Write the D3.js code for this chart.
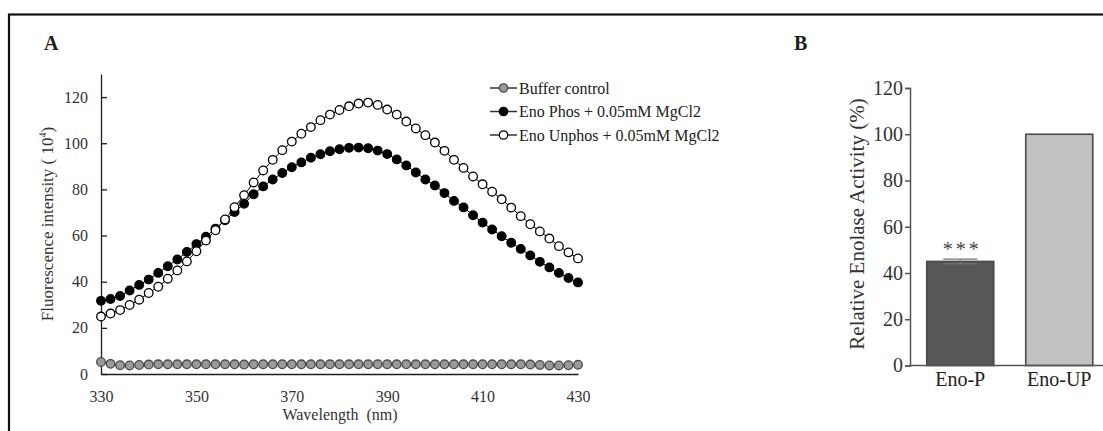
<!DOCTYPE html>
<html>
<head>
<meta charset="utf-8">
<script src="https://cdn.jsdelivr.net/npm/d3@7"></script>
<style>
  html, body { margin: 0; padding: 0; background: #fff; }
  svg { display: block; font-family: "Liberation Serif", "Times New Roman", serif; }
</style>
</head>
<body>
<svg id="fig" width="1103" height="431"></svg>
<script>
// ---- Panel A: emission spectra ----
const wavelengths = [330,332,334,336,338,340,342,344,346,348,350,352,354,356,358,360,362,364,366,368,370,
  372,374,376,378,380,382,384,386,388,390,392,394,396,398,400,402,404,406,408,410,412,414,416,418,420,
  422,424,426,428,430];

const bufferControl = [5.2,4.4,3.8,3.7,3.9,4.1,4.2,4.2,4.2,4.2,4.2,4.2,4.2,4.2,4.2,4.1,4.2,4.2,4.2,4.2,4.2,
  4.2,4.2,4.2,4.2,4.2,4.2,4.2,4.2,4.2,4.2,4.2,4.2,4.2,4.2,4.2,4.2,4.2,4.2,4.2,4.2,4.2,4.2,4.2,4.2,4.1,
  3.9,3.7,3.7,3.8,4.0];

const enoPhos = [31.7,32.5,33.8,36.2,38.6,40.9,43.8,46.7,49.6,52.9,56.3,59.5,63.0,66.6,70.2,73.8,77.9,81.3,
  84.3,87.1,89.6,91.7,93.7,95.2,96.5,97.4,98.0,98.1,97.8,96.8,95.3,93.0,90.4,87.3,84.3,81.7,78.4,75.0,
  72.2,68.8,65.6,62.6,59.7,56.9,54.2,51.4,48.6,46.2,43.8,41.6,39.7];

const enoUnphos = [24.9,26.2,27.7,29.9,32.2,35.1,37.8,41.3,44.9,48.8,53.2,57.8,62.3,67.0,72.3,77.5,83.0,88.2,
  92.8,97.0,100.7,104.1,107.0,110.0,112.4,114.4,116.0,117.2,117.6,116.6,114.6,112.4,109.4,106.4,103.5,
  100.3,96.7,92.8,89.3,85.6,82.2,79.0,75.7,72.1,68.4,64.9,61.8,58.7,55.4,52.7,50.1];

const seriesNames = ["Buffer control", "Eno Phos + 0.05mM MgCl2", "Eno Unphos + 0.05mM MgCl2"];
const spectrumXTicks = [330, 350, 370, 390, 410, 430];
const spectrumYTicks = [0, 20, 40, 60, 80, 100, 120];

// ---- Panel B: relative activity ----
const activityCategories = ["Eno-P", "Eno-UP"];
const activityValues = [45, 100];
const activityErrors = [1.0, 0];
const activityYTicks = [0, 20, 40, 60, 80, 100, 120];

const svg = d3.select("#fig");
const ink = "#1e1e1e";

// outer frame
svg.append("rect")
  .attr("x", 9).attr("y", 14.5).attr("width", 1110).attr("height", 440)
  .attr("fill", "none").attr("stroke", "#111").attr("stroke-width", 2.2);

// panel letters
svg.append("text").attr("x", 44).attr("y", 50).text("A")
  .attr("font-size", 20).attr("font-weight", "bold").attr("fill", ink);
svg.append("text").attr("x", 794).attr("y", 50).text("B")
  .attr("font-size", 20).attr("font-weight", "bold").attr("fill", ink);

// ===== Panel A =====
const xA = d3.scaleLinear().domain([330, 430]).range([101, 578]);
const yA = d3.scaleLinear().domain([0, 130]).range([374, 74]);

const gA = svg.append("g");

// y axis with ticks crossing the line
const yAxisA = gA.append("g").attr("transform", `translate(${xA(330)},0)`)
  .call(d3.axisLeft(yA).tickValues(spectrumYTicks).tickSizeInner(4).tickSizeOuter(0).tickPadding(9));
yAxisA.select(".domain").attr("stroke", ink).attr("stroke-width", 1.3);
yAxisA.selectAll(".tick line").attr("x2", 6).attr("stroke", ink).attr("stroke-width", 1.3);
yAxisA.selectAll(".tick text").attr("font-size", 16).attr("fill", "#333").attr("font-family", "Liberation Serif");

// x axis: line and labels only
const xAxisA = gA.append("g").attr("transform", `translate(0,${yA(0)})`)
  .call(d3.axisBottom(xA).tickValues(spectrumXTicks).tickSize(0).tickPadding(16.5));
xAxisA.select(".domain").attr("stroke", ink).attr("stroke-width", 1.3);
xAxisA.selectAll(".tick text").attr("font-size", 16).attr("fill", "#333").attr("font-family", "Liberation Serif");

// axis titles
gA.append("text")
  .attr("transform", `translate(53,${224}) rotate(-90)`)
  .attr("text-anchor", "middle").attr("font-size", 17).attr("fill", "#333")
  .call(t => {
    t.append("tspan").text("Fluorescence intensity ( 10");
    t.append("tspan").text("4").attr("font-size", 10).attr("dy", -7);
    t.append("tspan").text(")").attr("dy", 7);
  });
gA.append("text").attr("x", 340).attr("y", 420).attr("text-anchor", "middle")
  .attr("font-size", 16).attr("fill", "#333").attr("xml:space", "preserve")
  .text("Wavelength  (nm)");

const seriesStyles = [
  { values: bufferControl, fill: "#9a9a9a", stroke: "#4a4a4a" },
  { values: enoPhos, fill: "#000", stroke: "#000" },
  { values: enoUnphos, fill: "#fff", stroke: "#000" }
];

const line = d3.line().x(d => xA(d[0])).y(d => yA(d[1]));

seriesStyles.forEach(s => {
  const pts = wavelengths.map((w, i) => [w, s.values[i]]);
  const g = gA.append("g");
  g.append("path").datum(pts).attr("d", line)
    .attr("fill", "none").attr("stroke", s.stroke).attr("stroke-width", 1);
  g.selectAll("circle").data(pts).join("circle")
    .attr("cx", d => xA(d[0])).attr("cy", d => yA(d[1])).attr("r", 4.3)
    .attr("fill", s.fill).attr("stroke", s.stroke).attr("stroke-width", 1.3);
});

// legend
const legend = gA.append("g");
seriesStyles.forEach((s, i) => {
  const cy = 88 + i * 23.5;
  legend.append("line").attr("x1", 490).attr("x2", 517).attr("y1", cy).attr("y2", cy)
    .attr("stroke", "#333").attr("stroke-width", 1.5);
  legend.append("circle").attr("cx", 503.5).attr("cy", cy).attr("r", 4.2)
    .attr("fill", s.fill).attr("stroke", s.stroke).attr("stroke-width", 1.3);
  legend.append("text").attr("x", 519).attr("y", cy).attr("dy", "0.35em")
    .attr("font-size", 16).attr("fill", "#222").text(seriesNames[i]);
});

// ===== Panel B =====
const yB = d3.scaleLinear().domain([0, 120]).range([365.5, 88]);
const xB = d3.scaleBand().domain(activityCategories).range([910, 1109.5])
  .paddingInner(0.323).paddingOuter(0.169);

const gB = svg.append("g");
const axisGrey = "#555";

gB.selectAll("rect.bar").data(activityCategories).join("rect")
  .attr("class", "bar")
  .attr("x", d => xB(d)).attr("width", xB.bandwidth())
  .attr("y", (d, i) => yB(activityValues[i]))
  .attr("height", (d, i) => yB(0) - yB(activityValues[i]))
  .attr("fill", (d, i) => i === 0 ? "#575757" : "#c2c2c2")
  .attr("stroke", "#4a4a4a").attr("stroke-width", 1.6);

// error bars and significance mark
activityCategories.forEach((c, i) => {
  if (!activityErrors[i]) return;
  const cx = xB(c) + xB.bandwidth() / 2;
  const top = yB(activityValues[i] + activityErrors[i]);
  const bot = yB(activityValues[i] - activityErrors[i]);
  gB.append("line").attr("x1", cx).attr("x2", cx).attr("y1", top).attr("y2", bot)
    .attr("stroke", "#777").attr("stroke-width", 1.2);
  [top, bot].forEach(y => gB.append("line").attr("x1", cx - 17).attr("x2", cx + 17)
    .attr("y1", y).attr("y2", y).attr("stroke", "#777").attr("stroke-width", 1.2));
  gB.append("text").attr("x", cx + 2).attr("y", top - 3).attr("text-anchor", "middle")
    .attr("font-size", 20).attr("letter-spacing", 3).attr("fill", "#444").text("***");
});

const yAxisB = gB.append("g").attr("transform", "translate(910,0)")
  .call(d3.axisLeft(yB).tickValues(activityYTicks).tickSizeInner(5).tickSizeOuter(5).tickPadding(2));
yAxisB.select(".domain").attr("stroke", axisGrey).attr("stroke-width", 1.5);
yAxisB.selectAll(".tick line").attr("stroke", axisGrey).attr("stroke-width", 1.5);
yAxisB.selectAll(".tick text").attr("font-size", 20).attr("fill", "#333").attr("font-family", "Liberation Serif");

const xAxisB = gB.append("g").attr("transform", `translate(0,${yB(0)})`)
  .call(d3.axisBottom(xB).tickSize(0).tickPadding(6));
xAxisB.select(".domain").attr("stroke", axisGrey).attr("stroke-width", 1.5)
  .attr("d", "M910,0H1103");
xAxisB.selectAll(".tick text").attr("font-size", 20).attr("fill", "#222").attr("font-family", "Liberation Serif");

gB.append("text")
  .attr("transform", "translate(864,224) rotate(-90)")
  .attr("text-anchor", "middle").attr("font-size", 21).attr("fill", "#333")
  .text("Relative Enolase Activity (%)");
</script>
</body>
</html>
